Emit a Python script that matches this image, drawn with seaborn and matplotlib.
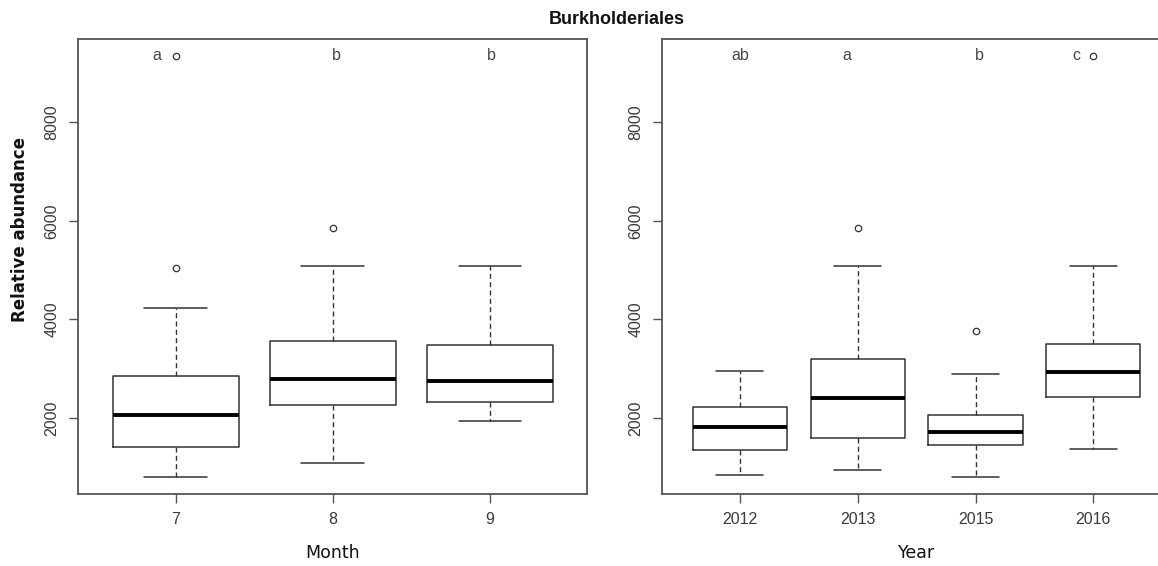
import matplotlib
matplotlib.use("Agg")
import matplotlib.pyplot as plt
import seaborn as sns

# ---- Burkholderiales relative abundance: box summaries by month ----
month_labels = ["7", "8", "9"]
month_whislo = [802, 1094, 1927]
month_q1 = [1411, 2258, 2313]
month_med = [2049, 2780, 2745]
month_q3 = [2841, 3558, 3471]
month_whishi = [4234, 5075, 5088]
month_fliers = [[5035, 9353], [5859], []]
month_letters = ["a", "b", "b"]

# ---- box summaries by year ----
year_labels = ["2012", "2013", "2015", "2016"]
year_whislo = [842, 938, 802, 1364]
year_q1 = [1344, 1582, 1445, 2420]
year_med = [1817, 2394, 1716, 2934]
year_q3 = [2223, 3192, 2049, 3491]
year_whishi = [2955, 5088, 2894, 5075]
year_fliers = [[], [5859], [3755], [9353]]
year_letters = ["ab", "a", "b", "c"]

y_ticks = [2000, 4000, 6000, 8000]

sns.set_theme(style="white")
plt.rcParams["font.family"] = ["Liberation Sans", "DejaVu Sans"]

BOX_COLOR = "#333333"
AXIS_COLOR = "#555555"
TEXT_COLOR = "#3a3a3a"


def make_stats(labels, lo, q1, med, q3, hi, fliers):
    return [
        dict(label=l, whislo=a, q1=b, med=c, q3=d, whishi=e, fliers=f)
        for l, a, b, c, d, e, f in zip(labels, lo, q1, med, q3, hi, fliers)
    ]


def draw_panel(ax, stats, letters, letter_shift, xlabel):
    n = len(stats)
    pos = list(range(1, n + 1))
    ax.bxp(
        stats,
        positions=pos,
        widths=0.8,
        capwidths=0.4,
        showfliers=True,
        boxprops=dict(color=BOX_COLOR, linewidth=1.1),
        whiskerprops=dict(color=BOX_COLOR, linewidth=1.0, linestyle=(0, (3.6, 2.4))),
        capprops=dict(color=BOX_COLOR, linewidth=1.1),
        medianprops=dict(color="black", linewidth=2.8, solid_capstyle="butt"),
        flierprops=dict(marker="o", markerfacecolor="none", markeredgecolor=BOX_COLOR,
                        markersize=4.6, markeredgewidth=0.9, linestyle="none"),
    )
    # R-style limits: 4% padding around the full data extent
    lo = min(s["whislo"] for s in stats)
    for s in stats:
        lo = min([lo] + list(s["fliers"]))
    hi = max(max([s["whishi"]] + list(s["fliers"])) for s in stats)
    span = hi - lo
    ax.set_ylim(lo - 0.04 * span, hi + 0.04 * span)
    ax.set_xlim(0.5 - 0.04 * n, n + 0.5 + 0.04 * n)

    ax.set_xticks(pos)
    ax.set_xticklabels([s["label"] for s in stats])
    ax.set_yticks(y_ticks)
    ax.set_yticklabels([str(t) for t in y_ticks], rotation=90, va="center")
    ax.tick_params(axis="both", direction="out", length=6.5, width=1.0,
                   color=AXIS_COLOR, pad=7, labelsize=11.5, labelcolor=TEXT_COLOR,
                   bottom=True, left=True)
    for sp in ax.spines.values():
        sp.set_visible(True)
        sp.set_color(AXIS_COLOR)
        sp.set_linewidth(1.3)

    for p, letter, dx in zip(pos, letters, letter_shift):
        ax.text(p + dx, hi, letter, ha="center", va="center",
                fontsize=11.5, color="#444444")

    ax.set_xlabel(xlabel, fontsize=12.5, family="DejaVu Sans", color="#111111")
    ax.xaxis.set_label_coords(0.5, -0.13)
    ax.xaxis.label.set_va("center")


fig = plt.figure(figsize=(11.58, 5.66), dpi=100)
ax1 = fig.add_axes([0.0676, 0.1277, 0.4396, 0.8034])
ax2 = fig.add_axes([0.5718, 0.1277, 0.4395, 0.8034])

draw_panel(ax1,
           make_stats(month_labels, month_whislo, month_q1, month_med, month_q3,
                      month_whishi, month_fliers),
           month_letters, [-0.12, 0.02, 0.01], "Month")
draw_panel(ax2,
           make_stats(year_labels, year_whislo, year_q1, year_med, year_q3,
                      year_whishi, year_fliers),
           year_letters, [0.0, -0.09, 0.03, -0.14], "Year")

ax1.set_ylabel("Relative abundance", fontsize=12, family="DejaVu Sans",
               fontweight="bold", color="#111111")
ax1.yaxis.set_label_coords(-0.1145, 0.58)
ax1.yaxis.label.set_va("center")

fig.text(0.533, 1 - 20 / 566, "Burkholderiales", ha="center", va="center",
         fontsize=13, fontweight="bold", color="#111111")

fig.savefig("out.png", dpi=100)
